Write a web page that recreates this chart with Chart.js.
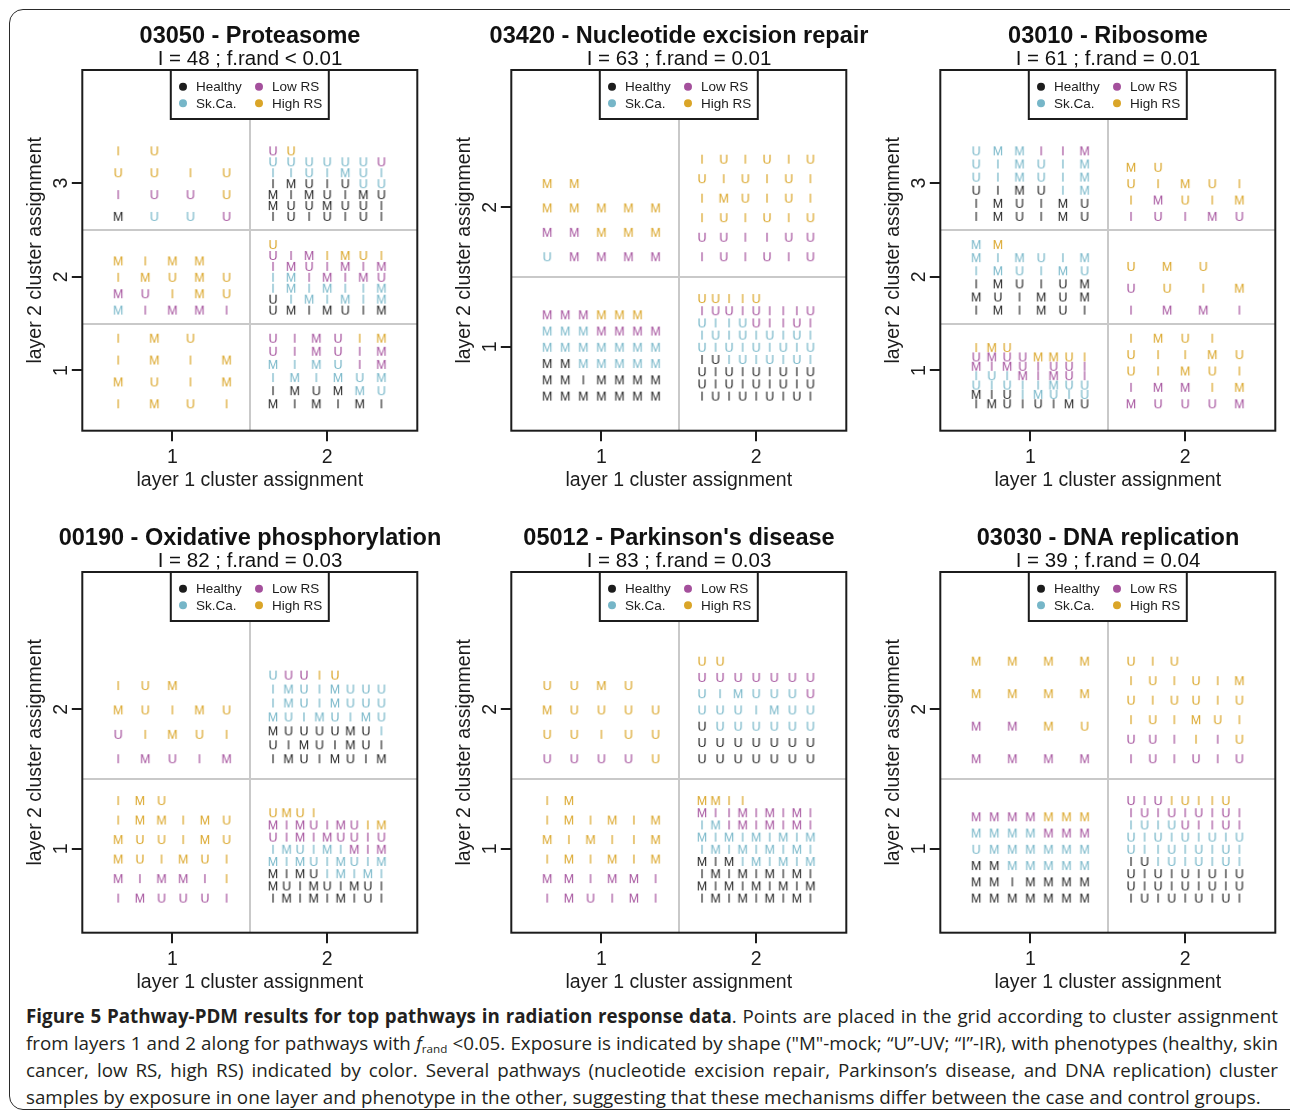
<!DOCTYPE html>
<html>
<head>
<meta charset="utf-8">
<script src="https://cdn.jsdelivr.net/npm/chart.js@4.4.1/dist/chart.umd.min.js"></script>
<style>
  body { margin: 0; background: #fff; width: 1290px; height: 1114px; overflow: hidden; position: relative; }
  .panel { position: absolute; }
  #box { position: absolute; left: 9px; top: 9px; width: 1340px; height: 1101px; border: 1.5px solid #2a2a2a; border-radius: 14px; box-sizing: border-box; }
  #caption { position: absolute; left: 26px; top: 1003px; font-family: 'Open Sans', 'Noto Sans', sans-serif; font-size: 17px; line-height: 27px; color: #231f20; }
  #caption div { width: max-content; white-space: nowrap; }
  #caption sub { font-size: 0.62em; line-height: 0; vertical-align: -3px; }
</style>
</head>
<body>
<div id="box"></div>
<div id="caption">
  <div class="j"><b>Figure 5 Pathway-PDM results for top pathways in radiation response data</b>. Points are placed in the grid according to cluster assignment</div>
  <div class="j">from layers 1 and 2 along for pathways with <i>f</i><sub>rand</sub> &lt;0.05. Exposure is indicated by shape ("M"-mock; “U”-UV; “I”-IR), with phenotypes (healthy, skin</div>
  <div class="j">cancer, low RS, high RS) indicated by color. Several pathways (nucleotide excision repair, Parkinson’s disease, and DNA replication) cluster</div>
  <div id="lastLine">samples by exposure in one layer and phenotype in the other, suggesting that these mechanisms differ between the case and control groups.</div>
</div>
<script>
// phenotype legend
const phenoNames = ['Healthy', 'Sk.Ca.', 'Low RS', 'High RS']
const phenoCodes = ['k', 'c', 'm', 'y']
const phenoColors = ['#1c1c1c', '#76b6c8', '#a4509c', '#daa528']
const exposureShapes = ['M', 'U', 'I']

// pathway headers
const titles = ['03050 - Proteasome', '03420 - Nucleotide excision repair', '03010 - Ribosome',
  '00190 - Oxidative phosphorylation', "05012 - Parkinson's disease", '03030 - DNA replication']
const stats = ['I = 48 ; f.rand < 0.01', 'I = 63 ; f.rand = 0.01', 'I = 61 ; f.rand = 0.01',
  'I = 82 ; f.rand = 0.03', 'I = 83 ; f.rand = 0.03', 'I = 39 ; f.rand = 0.04']
const layer1Ticks = [1, 2]
const layer2Counts = [3, 2, 3, 2, 2, 2]

// samples per cell: [layer 1 cluster, layer 2 cluster, exposure+phenotype, bottom row first]
const p03050 = [
  [1, 3, 'Mk Uc Uc Um / Im Um Um Uy / Uy Uy Iy Uy / Iy Uy'],
  [2, 3, 'Ik Uk Ik Uk Ik Uk Ik / Mk Uk Uk Mk Uk Uk Ik / Mk Ik Mk Uk Ik Mk Uk / Ik Mk Uk Ik Uk Uc Uc / Ic Ic Uc Ic Mc Uc Ic / Uc Uc Uc Uc Uc Uc Um / Um Uy'],
  [1, 2, 'Mc Im Mm Mm Im / Mm Um Iy My Uy / Iy My Uy My Uy / My Iy My My'],
  [2, 2, 'Uk Mk Ik Mk Uk Ik Mk / Uk Ic Mc Ic Mc Ic Mc / Ic Mc Ic Mc Ic Ic Mc / Ic Mc Im Mm Im Mm Um / Im Mm Um Im Mm Im Mm / Um Im Mm Iy My Uy Iy / Uy'],
  [1, 1, 'Iy My Uy Iy / My Uy Iy My / Iy My Iy My / Iy My Uy'],
  [2, 1, 'Mk Ik Mk Ik Mk Ik / Ik Mk Uk Mk Mc Uc / Ic Mc Ic Mc Uc Mc / Mc Ic Mc Uc Im Mm / Um Im Mm Um Im Mm / Um Im Mm Um Iy My'],
]
const p03420 = [
  [1, 2, 'Uc Mm Mm Mm Mm / Mm Mm My My My / My My My My My / My My'],
  [2, 2, 'Im Um Im Um Im Um / Um Um Im Im Um Um / Iy Uy Iy Uy Iy Uy / Iy My Uy Iy Uy Iy / Uy Iy Uy Iy Uy Iy / Iy Uy Iy Uy Iy Uy'],
  [1, 1, 'Mk Mk Mk Mk Mk Mk Mk / Mk Mk Ik Mk Mk Mk Mk / Mk Mk Mc Mc Mc Mc Mc / Mc Mc Mc Mc Mc Mc Mc / Mc Mc Mc Mm Mm Mm Mm / Mm Mm Mm My My My'],
  [2, 1, 'Ik Uk Ik Uk Ik Uk Ik Uk Ik / Uk Ik Uk Ik Uk Ik Uk Ik Uk / Uk Ik Uk Ik Uk Ik Uk Ik Uk / Ik Uk Ic Uc Ic Uc Ic Uc Ic / Uc Ic Uc Ic Uc Ic Uc Ic Uc / Ic Uc Ic Uc Ic Uc Ic Uc Ic / Uc Ic Ic Uc Um Im Im Um Im / Im Um Um Im Um Im Im Im Um / Uy Uy Iy Iy Uy'],
]
const p03010 = [
  [1, 3, 'Ik Mk Uk Ik Mk Uk / Ik Mk Uk Ik Mk Uk / Uk Ik Mk Uk Ic Mc / Uc Ic Mc Uc Ic Mc / Uc Ic Mc Uc Ic Mc / Uc Mc Mc Im Im Mm'],
  [2, 3, 'Im Um Im Mm Um / Iy Mm Uy Iy My / Uy Iy My Uy Iy / My Uy'],
  [1, 2, 'Ik Mk Ik Mk Uk Ik / Mk Uk Ik Mk Uk Mk / Ik Mk Uk Ik Uk Mk / Ic Mc Uc Ic Mc Uc / Mc Ic Mc Uc Ic Mc / Mc My'],
  [2, 2, 'Im Mm Mm Im / Um Uy Iy My / Uy My Uy'],
  [1, 1, 'Ik Mk Uk Ik Uk Ik Mk Uk / Mk Ik Uk Ic Mc Uc Ic Uc / Uc Ic Uc Ic Ic Mc Uc Uc / Ic Uc Ic Mm Im Mm Um Im / Mm Im Mm Um Im Um Um Im / Um Mm Um Um My My Uy Iy / Iy My Uy'],
  [2, 1, 'Mm Um Um Um Mm / Im Mm Mm Iy My / Uy Iy My Uy Iy / Uy Iy Iy My Uy / Iy My Uy Iy'],
]
const p00190 = [
  [1, 2, 'Im Mm Um Im Mm / Um Iy My Uy Iy / My Uy Iy My Uy / Iy Uy My'],
  [2, 2, 'Ik Mk Uk Ik Mk Uk Ik Mk / Uk Ik Mk Uk Ik Mk Uk Ik / Mk Uk Uk Uk Uk Mk Uk Ic / Mc Uc Ic Mc Uc Ic Mc Uc / Ic Mc Uc Ic Mc Uc Uc Uc / Ic Mc Uc Ic Mc Uc Uc Uc / Uc Um Um Iy Uy'],
  [1, 1, 'Im Mm Um Um Um Im / Mm Im Mm Mm Im Iy / My Uy Iy My Uy Iy / My Uy Uy Iy My Uy / Iy My My Iy My Uy / Iy My Uy'],
  [2, 1, 'Ik Mk Ik Mk Ik Mk Ik Uk Ik / Mk Uk Ik Mk Uk Ik Mk Uk Ik / Mk Ik Mk Uk Ic Mc Ic Mc Ic / Mc Ic Mc Uc Ic Mc Uc Ic Mc / Ic Mc Uc Ic Mc Ic Mm Im Mm / Um Im Mm Im Mm Um Um Im Um / Mm Im Mm Um Im Mm Um Iy My / Uy My Uy Iy'],
]
const p05012 = [
  [1, 2, 'Um Um Um Um Uy / Uy Uy Iy Uy Uy / My Uy Uy Uy Uy / Uy Uy My Uy'],
  [2, 2, 'Uk Uk Uk Uk Uk Uk Uk / Uk Uk Uk Uk Uk Uk Uk / Uk Uc Uc Uc Uc Uc Uc / Uc Uc Uc Ic Mc Uc Uc / Uc Ic Mc Uc Uc Uc Um / Um Um Um Um Um Um Um / Uy Uy'],
  [1, 1, 'Im Mm Um Im Mm Im / Mm Mm Im Mm Mm Im / Iy My Iy My Iy My / My Iy My Iy Iy My / Iy My Iy My Iy My / Iy My'],
  [2, 1, 'Ik Mk Ik Mk Ik Mk Ik Mk Ik / Mk Ik Mk Ik Mk Ik Mk Ik Mk / Ik Mk Ik Mk Ik Mk Ik Mk Ik / Mk Ik Mk Ic Mc Ic Mc Ic Mc / Ic Mc Ic Mc Ic Mc Ic Mc Ic / Mc Ic Mc Ic Mc Ic Mc Ic Mc / Ic Mc Im Mm Im Mm Im Mm Im / Mm Im Im Mm Im Mm Im Mm Im / My My Iy Iy'],
]
const p03030 = [
  [1, 2, 'Mm Mm Mm Mm / Mm Mm My Uy / My My My My / My My My My'],
  [2, 2, 'Im Um Im Um Im Um / Um Um Im Iy Im Uy / Iy Uy Iy My Uy Iy / Uy Iy Uy Uy Iy Uy / Iy Uy Iy Uy Iy My / Uy Iy Uy'],
  [1, 1, 'Mk Mk Mk Mk Mk Mk Mk / Mk Mk Ik Mk Mk Mk Mk / Mk Mk Mc Mc Mc Mc Mc / Uc Mc Mc Mc Mc Mc Mc / Mc Mc Mc Mc Mm Mm Mm / Mm Mm Mm Mm My My My'],
  [2, 1, 'Ik Uk Ik Uk Ik Uk Ik Uk Ik / Uk Ik Uk Ik Uk Ik Uk Ik Uk / Uk Ik Uk Ik Uk Ik Uk Ik Uk / Ik Uk Ic Uc Ic Uc Ic Uc Ic / Uc Ic Ic Uc Ic Uc Ic Uc Ic / Uc Ic Uc Ic Uc Ic Uc Ic Uc / Ic Uc Ic Uc Um Im Im Um Im / Im Um Im Um Im Um Im Um Im / Um Im Um Iy Uy Iy Iy Uy'],
]
const panels = [p03050, p03420, p03010, p00190, p05012, p03030]

const FONT = "'Liberation Sans', Arial, sans-serif"
const INK = '#1c1c1c'
const SPREAD = 0.7 // width of the sample grid inside a cell, in cluster units
const X_RANGE = [0.418, 2.582]
const Y_RANGE = { 3: [0.357, 4.208], 2: [0.398, 2.986] }

Chart.defaults.font.family = FONT
Chart.defaults.color = INK

// caption: size the font on the last line, then justify the others
const cap = document.getElementById('caption')
const last = document.getElementById('lastLine')
cap.style.fontSize = (17 * 1236 / last.getBoundingClientRect().width) + 'px'
cap.querySelectorAll('.j').forEach(line => {
  const w = line.getBoundingClientRect().width
  const gaps = line.textContent.trim().split(/\s+/).length - 1
  line.style.wordSpacing = ((1252 - w) / gaps) + 'px'
})

// letter glyphs used as point styles
const glyphs = {}
exposureShapes.forEach(ch => phenoColors.forEach((col, p) => {
  const c = document.createElement('canvas')
  c.width = 18; c.height = 18
  const g = c.getContext('2d')
  g.font = '12.5px ' + FONT
  g.fillStyle = col
  g.textAlign = 'center'
  g.fillText(ch, 9, 13.5)
  glyphs[ch + p] = c
}))

// samples fill a square grid from the bottom-left corner of their cell
function cellPoints(l1, l2, seq) {
  const toks = seq.split(/[\s\/]+/).filter(Boolean)
  const ncol = Math.ceil(Math.sqrt(toks.length))
  const step = SPREAD / (ncol - 1)
  return toks.map((t, k) => ({
    x: l1 - SPREAD / 2 + (k % ncol) * step,
    y: l2 - SPREAD / 2 + Math.floor(k / ncol) * step,
    shape: t[0],
    pheno: phenoCodes.indexOf(t[1]),
  }))
}

// frame + legend box at the top of the plot
const frameLegend = {
  id: 'frameLegend',
  afterDraw(chart) {
    const { ctx, chartArea: a } = chart
    const cx = (a.left + a.right) / 2
    ctx.save()
    ctx.lineWidth = 2
    ctx.strokeStyle = INK
    ctx.strokeRect(a.left, a.top, a.right - a.left, a.bottom - a.top)
    ctx.fillStyle = '#fff'
    ctx.fillRect(cx - 79, a.top, 158, 49)
    ctx.strokeRect(cx - 79, a.top, 158, 49)
    ctx.font = '13.5px ' + FONT
    ctx.textBaseline = 'middle'
    phenoNames.forEach((name, k) => {
      const dx = Math.floor(k / 2) * 76
      const y = a.top + 16.7 + (k % 2) * 16.6
      ctx.fillStyle = phenoColors[k]
      ctx.beginPath()
      ctx.arc(cx - 66.8 + dx, y, 4, 0, Math.PI * 2)
      ctx.fill()
      ctx.fillStyle = INK
      ctx.fillText(name, cx - 53.8 + dx, y + 0.5)
    })
    ctx.restore()
  }
}

panels.forEach((cells, i) => {
  const cv = document.createElement('canvas')
  cv.width = 500
  cv.height = 500
  cv.className = 'panel'
  cv.style.left = (i % 3) * 429 + 'px'
  cv.style.top = Math.floor(i / 3) * 502 + 'px'
  document.body.appendChild(cv)

  const n2 = layer2Counts[i]
  const layer2Ticks = Array.from({ length: n2 }, (_, k) => k + 1)
  const pts = cells.flatMap(([a, b, s]) => cellPoints(a, b, s))
  const [ymin, ymax] = Y_RANGE[n2]

  new Chart(cv, {
    type: 'scatter',
    data: {
      datasets: phenoNames.map((name, p) => ({
        label: name,
        data: pts.filter(d => d.pheno === p),
        pointStyle: ctx => glyphs[ctx.raw.shape + p],
        pointRadius: 6,
      })),
    },
    options: {
      responsive: false,
      animation: false,
      events: [],
      layout: { padding: 0 },
      plugins: {
        legend: { display: false },
        tooltip: { enabled: false },
        title: {
          display: true, text: titles[i], color: '#111',
          font: { size: 23.5, weight: 'bold', lineHeight: 1 },
          padding: { top: 25.25, bottom: 0 },
        },
        subtitle: {
          display: true, text: stats[i], color: '#111',
          font: { size: 20.5, lineHeight: 1 },
          padding: { top: 0.75, bottom: 0 },
        },
      },
      scales: {
        x: {
          type: 'linear', position: 'bottom', min: X_RANGE[0], max: X_RANGE[1],
          afterBuildTicks: s => { s.ticks = layer1Ticks.map(v => ({ value: v })) },
          grid: { drawOnChartArea: false, tickLength: 10.5, lineWidth: 2, color: INK },
          border: { display: false },
          ticks: { font: { size: 19.5 }, padding: 5, maxRotation: 0, autoSkip: false },
          title: { display: true, text: 'layer 1 cluster assignment', font: { size: 19.5 }, padding: { top: 0, bottom: 7.3 } },
          afterFit: s => { s.height = 69.3 },
        },
        y: {
          type: 'linear', position: 'left', min: ymin, max: ymax,
          afterBuildTicks: s => { s.ticks = layer2Ticks.map(v => ({ value: v })) },
          grid: { drawOnChartArea: false, tickLength: 10.5, lineWidth: 2, color: INK },
          border: { display: false },
          ticks: { font: { size: 19.5 }, padding: 5, minRotation: 90, maxRotation: 90, crossAlign: 'center' },
          title: { display: true, text: 'layer 2 cluster assignment', font: { size: 19.5 }, padding: { top: 23.8, bottom: 0 } },
          afterFit: s => { s.width = 82.3 },
        },
        // empty right margin, keeps the headers centred over the plot
        yPad: {
          type: 'linear', position: 'right', min: ymin, max: ymax,
          grid: { drawOnChartArea: false, drawTicks: false },
          border: { display: false },
          ticks: { display: false },
          afterFit: s => { s.width = 82.7 },
        },
        // cluster dividers
        xDiv: {
          type: 'linear', position: 'bottom', min: X_RANGE[0], max: X_RANGE[1],
          afterBuildTicks: s => { s.ticks = layer1Ticks.slice(1).map(v => ({ value: v - 0.5 })) },
          grid: { drawOnChartArea: true, drawTicks: false, color: '#c9c9c9', lineWidth: 2 },
          border: { display: false },
          ticks: { display: false },
          afterFit: s => { s.height = 0 },
        },
        yDiv: {
          type: 'linear', position: 'left', min: ymin, max: ymax,
          afterBuildTicks: s => { s.ticks = layer2Ticks.slice(1).map(v => ({ value: v - 0.5 })) },
          grid: { drawOnChartArea: true, drawTicks: false, color: '#c9c9c9', lineWidth: 2 },
          border: { display: false },
          ticks: { display: false },
          afterFit: s => { s.width = 0 },
        },
      },
    },
    plugins: [frameLegend],
  })
})
</script>
</body>
</html>
